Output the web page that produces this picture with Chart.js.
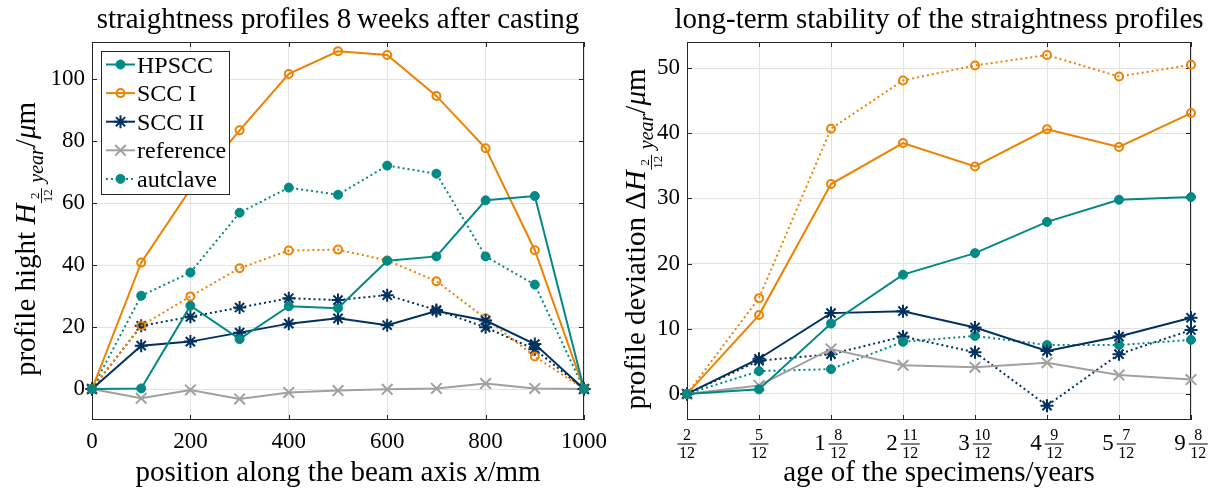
<!DOCTYPE html>
<html>
<head>
<meta charset="utf-8">
<script src="https://cdn.jsdelivr.net/npm/chart.js@4.4.1/dist/chart.umd.min.js"></script>
<style>
  html, body { margin: 0; padding: 0; background: #fff; }
  #wrap { position: relative; width: 1230px; height: 490px; }
  #wrap canvas { position: absolute; top: 0; }
</style>
</head>
<body>
<div id="wrap">
  <canvas id="profile-chart" width="615" height="490" style="left:0"></canvas>
  <canvas id="stability-chart" width="615" height="490" style="left:615px"></canvas>
</div>
<script>
// left: straightness profiles 8 weeks after casting (µm)
const positions = [0, 100, 200, 300, 400, 500, 600, 700, 800, 900, 1000];
const hpsccProfile = [0, 0.2, 26.9, 16.1, 26.7, 26.1, 41.4, 42.8, 60.9, 62.3, 0];
const scc1Profile = [0, 40.8, 64.5, 83.5, 101.7, 109.0, 107.8, 94.6, 77.7, 44.8, 0];
const scc2Profile = [0, 14.0, 15.3, 18.2, 21.1, 22.8, 20.6, 25.2, 22.1, 14.5, 0];
const referenceProfile = [0, -3.0, -0.3, -3.2, -1.1, -0.5, -0.1, 0.2, 1.8, 0.2, 0];
const hpsccAutoProfile = [0, 30.1, 37.6, 56.9, 65.0, 62.7, 72.1, 69.5, 42.8, 33.7, 0];
const scc1AutoProfile = [0, 20.4, 29.9, 39.0, 44.7, 45.0, 41.5, 34.8, 22.8, 10.5, 0];
const scc2AutoProfile = [0, 20.4, 23.3, 26.3, 29.3, 28.7, 30.3, 25.5, 19.9, 12.8, 0];
const profileTicks = [0, 20, 40, 60, 80, 100];

// right: long-term deviation (µm) over specimen age
const ageWhole = ["", "", "1", "2", "3", "4", "5", "9"];
const ageNum = ["2", "5", "8", "11", "10", "9", "7", "8"];
const ageDen = "12";
const hpsccDev = [0, 0.7, 10.8, 18.3, 21.6, 26.4, 29.8, 30.2];
const scc1Dev = [0, 12.1, 32.2, 38.5, 34.9, 40.6, 37.9, 43.1];
const scc2Dev = [0, 5.4, 12.4, 12.7, 10.2, 6.6, 8.8, 11.7];
const referenceDev = [0, 1.3, 6.9, 4.4, 4.1, 4.8, 2.9, 2.2];
const hpsccAutoDev = [0, 3.5, 3.8, 8.0, 8.9, 7.5, 7.5, 8.3];
const scc1AutoDev = [0, 14.7, 40.7, 48.1, 50.4, 52.0, 48.7, 50.5];
const scc2AutoDev = [0, 5.1, 6.1, 8.8, 6.4, -1.8, 6.1, 9.8];
const devTicks = [0, 10, 20, 30, 40, 50];

const teal = "#008985";
const orange = "#ee8200";
const navy = "#00315f";
const gray = "#a0a0a0";
const axisColor = "#262626";
const gridColor = "#e2e2e2";
const serif = "'Liberation Serif', 'Times New Roman', serif";

const markers = {
  dot: { pointStyle: "circle", radius: 4.5, borderWidth: 1, filled: true },
  ring: { pointStyle: "circle", radius: 4, borderWidth: 2, filled: false },
  star: { pointStyle: "star", radius: 6.5, borderWidth: 2, filled: false },
  cross: { pointStyle: "crossRot", radius: 7.5, borderWidth: 2, filled: false },
};

function series(label, data, color, marker, dotted, inLegend) {
  const m = markers[marker];
  return {
    label,
    data,
    inLegend,
    borderColor: color,
    backgroundColor: color,
    borderWidth: 2,
    borderDash: dotted ? [2, 3] : [],
    pointStyle: m.pointStyle,
    pointRadius: m.radius,
    pointHoverRadius: m.radius,
    pointBorderWidth: m.borderWidth,
    pointBorderColor: color,
    pointBackgroundColor: m.filled ? color : "rgba(0,0,0,0)",
    tension: 0,
    clip: false,
  };
}

function xy(xs, ys) {
  return xs.map((x, i) => ({ x, y: ys[i] }));
}

function font(size, style) {
  return (style ? style + " " : "") + size + "px " + serif;
}

// mixed roman / italic / subscript text, centred on (cx, baseline)
function drawRich(ctx, parts, cx, baseY, rotate) {
  ctx.save();
  ctx.translate(cx, baseY);
  if (rotate) ctx.rotate(-Math.PI / 2);
  let total = 0;
  const widths = parts.map((p) => {
    ctx.font = p.font;
    const w = p.frac
      ? Math.max(ctx.measureText(p.frac[0]).width, ctx.measureText(p.frac[1]).width) + 3
      : ctx.measureText(p.text).width;
    total += w;
    return w;
  });
  let x = -total / 2;
  ctx.fillStyle = "#000";
  ctx.textBaseline = "alphabetic";
  parts.forEach((p, i) => {
    ctx.font = p.font;
    const dy = p.dy || 0;
    if (p.frac) {
      const w = widths[i];
      ctx.textAlign = "center";
      ctx.fillText(p.frac[0], x + w / 2, dy - 2);
      ctx.fillText(p.frac[1], x + w / 2, dy + 11);
      ctx.fillRect(x + 0.5, dy, w - 1, 0.9);
    } else {
      ctx.textAlign = "left";
      ctx.fillText(p.text, x, dy);
    }
    x += widths[i];
  });
  ctx.restore();
}

const frameTicks = {
  id: "frameTicks",
  beforeDatasetsDraw(chart) {
    const { ctx, chartArea: a, scales } = chart;
    ctx.save();
    ctx.strokeStyle = axisColor;
    ctx.lineWidth = 1;
    ctx.beginPath();
    scales.x.ticks.forEach((t, i) => {
      const px = Math.round(scales.x.getPixelForTick(i)) + 0.5;
      ctx.moveTo(px, a.bottom);
      ctx.lineTo(px, a.bottom - 5);
      ctx.moveTo(px, a.top);
      ctx.lineTo(px, a.top + 5);
    });
    scales.y.ticks.forEach((t, i) => {
      const py = Math.round(scales.y.getPixelForTick(i)) + 0.5;
      ctx.moveTo(a.left, py);
      ctx.lineTo(a.left + 5, py);
      ctx.moveTo(a.right, py);
      ctx.lineTo(a.right - 5, py);
    });
    ctx.stroke();
    ctx.strokeRect(a.left + 0.5, a.top + 0.5, a.width - 1, a.height - 1);
    ctx.restore();
  },
};

const axisText = {
  id: "axisText",
  afterDraw(chart, args, opts) {
    const { ctx, chartArea: a } = chart;
    const cx = (a.left + a.right) / 2;
    ctx.save();
    ctx.fillStyle = "#000";
    ctx.font = font(29);
    ctx.textAlign = "center";
    ctx.textBaseline = "alphabetic";
    ctx.fillText(opts.title, cx, 28);
    ctx.restore();
    drawRich(ctx, opts.xTitle, cx, 481, false);
    drawRich(ctx, opts.yTitle, opts.yTitleX, (a.top + a.bottom) / 2 + 8, true);

    if (opts.fractionTicks) {
      const scale = chart.scales.x;
      ctx.save();
      ctx.fillStyle = "#000";
      ctx.textBaseline = "alphabetic";
      scale.ticks.forEach((t, i) => {
        const px = scale.getPixelForTick(i);
        ctx.font = font(23);
        const ww = ageWhole[i] ? ctx.measureText(ageWhole[i]).width + 3 : 0;
        ctx.font = font(16);
        const fw = Math.max(ctx.measureText(ageNum[i]).width, ctx.measureText(ageDen).width) + 3;
        const start = px - (ww + fw) / 2;
        if (ageWhole[i]) {
          ctx.font = font(23);
          ctx.textAlign = "left";
          ctx.fillText(ageWhole[i], start, 450);
        }
        ctx.font = font(16);
        ctx.textAlign = "center";
        ctx.fillText(ageNum[i], start + ww + fw / 2, 440);
        ctx.fillText(ageDen, start + ww + fw / 2, 458);
        ctx.fillRect(start + ww, 443.5, fw, 1);
      });
      ctx.restore();
    }
  },
};

const legendBox = {
  id: "legendBox",
  afterDraw(chart, args, opts) {
    if (!opts.show) return;
    const { ctx } = chart;
    const items = chart.data.datasets.filter((d) => d.inLegend);
    ctx.save();
    ctx.fillStyle = "#fff";
    ctx.fillRect(opts.x, opts.y, opts.w, opts.h);
    ctx.strokeStyle = axisColor;
    ctx.lineWidth = 1;
    ctx.strokeRect(opts.x + 0.5, opts.y + 0.5, opts.w, opts.h);
    items.forEach((d, i) => {
      const cy = opts.y + 13.5 + i * 28.6;
      ctx.strokeStyle = d.borderColor;
      ctx.lineWidth = 2;
      ctx.setLineDash(d.borderDash);
      ctx.beginPath();
      ctx.moveTo(opts.x + 5, cy);
      ctx.lineTo(opts.x + 34, cy);
      ctx.stroke();
      ctx.setLineDash([]);
      ctx.fillStyle = d.pointBackgroundColor;
      ctx.lineWidth = d.pointBorderWidth;
      Chart.helpers.drawPoint(
        ctx,
        { pointStyle: d.pointStyle, radius: d.pointRadius, borderWidth: d.pointBorderWidth, rotation: 0 },
        opts.x + 19.5,
        cy
      );
      ctx.fillStyle = "#000";
      ctx.font = font(24);
      ctx.textAlign = "left";
      ctx.textBaseline = "alphabetic";
      ctx.fillText(d.label, opts.x + 36, cy + 8);
    });
    ctx.restore();
  },
};

const tickFont = { family: serif, size: 23 };
const plainNumber = (v) => String(v);

function scaleCommon(extra) {
  return Object.assign(
    {
      grid: { color: gridColor, drawTicks: false },
      border: { display: false },
    },
    extra
  );
}

function buildOptions(cfg) {
  return {
    responsive: false,
    animation: false,
    events: [],
    layout: { padding: cfg.padding, autoPadding: false },
    scales: {
      x: scaleCommon(cfg.x),
      y: scaleCommon(cfg.y),
    },
    plugins: {
      legend: { display: false },
      tooltip: { enabled: false },
      axisText: cfg.text,
      legendBox: cfg.legend,
    },
  };
}

const sub = () => [
  { text: "H", font: font(29, "italic") },
  { frac: ["2", "12"], font: font(13), dy: 6 },
  { text: " year", font: font(20, "italic"), dy: 8 },
  { text: "/", font: font(29) },
  { text: "\u03bc", font: font(29, "italic") },
  { text: "m", font: font(29) },
];

new Chart(document.getElementById("profile-chart"), {
  type: "line",
  data: {
    datasets: [
      series("HPSCC", xy(positions, hpsccProfile), teal, "dot", false, true),
      series("SCC I", xy(positions, scc1Profile), orange, "ring", false, true),
      series("SCC II", xy(positions, scc2Profile), navy, "star", false, true),
      series("reference", xy(positions, referenceProfile), gray, "cross", false, true),
      series("autclave", xy(positions, hpsccAutoProfile), teal, "dot", true, true),
      series("SCC I autclave", xy(positions, scc1AutoProfile), orange, "ring", true, false),
      series("SCC II autclave", xy(positions, scc2AutoProfile), navy, "star", true, false),
    ],
  },
  options: buildOptions({
    padding: { top: 42, right: 28, bottom: 0, left: 0 },
    x: {
      type: "linear",
      min: 0,
      max: 1000,
      ticks: { stepSize: 200, font: tickFont, color: "#000", padding: 8, maxRotation: 0, callback: plainNumber },
      afterFit: (s) => { s.height = 70; },
    },
    y: {
      min: -10,
      max: 112,
      afterBuildTicks: (s) => { s.ticks = profileTicks.map((v) => ({ value: v })); },
      ticks: { font: tickFont, color: "#000", padding: 7, callback: plainNumber },
      afterFit: (s) => { s.width = 92; },
    },
    text: {
      title: "straightness profiles 8\u2009weeks after casting",
      xTitle: [
        { text: "position along the beam axis ", font: font(29) },
        { text: "x", font: font(29, "italic") },
        { text: "/mm", font: font(29) },
      ],
      yTitle: [{ text: "profile hight ", font: font(29) }].concat(sub()),
      yTitleX: 35,
    },
    legend: { show: true, x: 101, y: 51, w: 128, h: 143 },
  }),
  plugins: [frameTicks, axisText, legendBox],
});

new Chart(document.getElementById("stability-chart"), {
  type: "line",
  data: {
    labels: ageNum.map((n, i) => (ageWhole[i] ? ageWhole[i] + " " : "") + n + "/" + ageDen),
    datasets: [
      series("HPSCC", hpsccDev, teal, "dot", false, true),
      series("SCC I", scc1Dev, orange, "ring", false, true),
      series("SCC II", scc2Dev, navy, "star", false, true),
      series("reference", referenceDev, gray, "cross", false, true),
      series("autclave", hpsccAutoDev, teal, "dot", true, true),
      series("SCC I autclave", scc1AutoDev, orange, "ring", true, false),
      series("SCC II autclave", scc2AutoDev, navy, "star", true, false),
    ],
  },
  options: buildOptions({
    padding: { top: 42, right: 39, bottom: 0, left: 0 },
    x: {
      type: "category",
      offset: false,
      ticks: { display: false },
      afterFit: (s) => { s.height = 70; },
    },
    y: {
      min: -4,
      max: 54,
      afterBuildTicks: (s) => { s.ticks = devTicks.map((v) => ({ value: v })); },
      ticks: { font: tickFont, color: "#000", padding: 7, callback: plainNumber },
      afterFit: (s) => { s.width = 72; },
    },
    text: {
      title: "long-term stability of the straightness profiles",
      xTitle: [{ text: "age of the specimens/years", font: font(29) }],
      yTitle: [{ text: "profile deviation \u0394", font: font(29) }].concat(sub()),
      yTitleX: 30,
      fractionTicks: true,
    },
    legend: { show: false },
  }),
  plugins: [frameTicks, axisText, legendBox],
});
</script>
</body>
</html>
